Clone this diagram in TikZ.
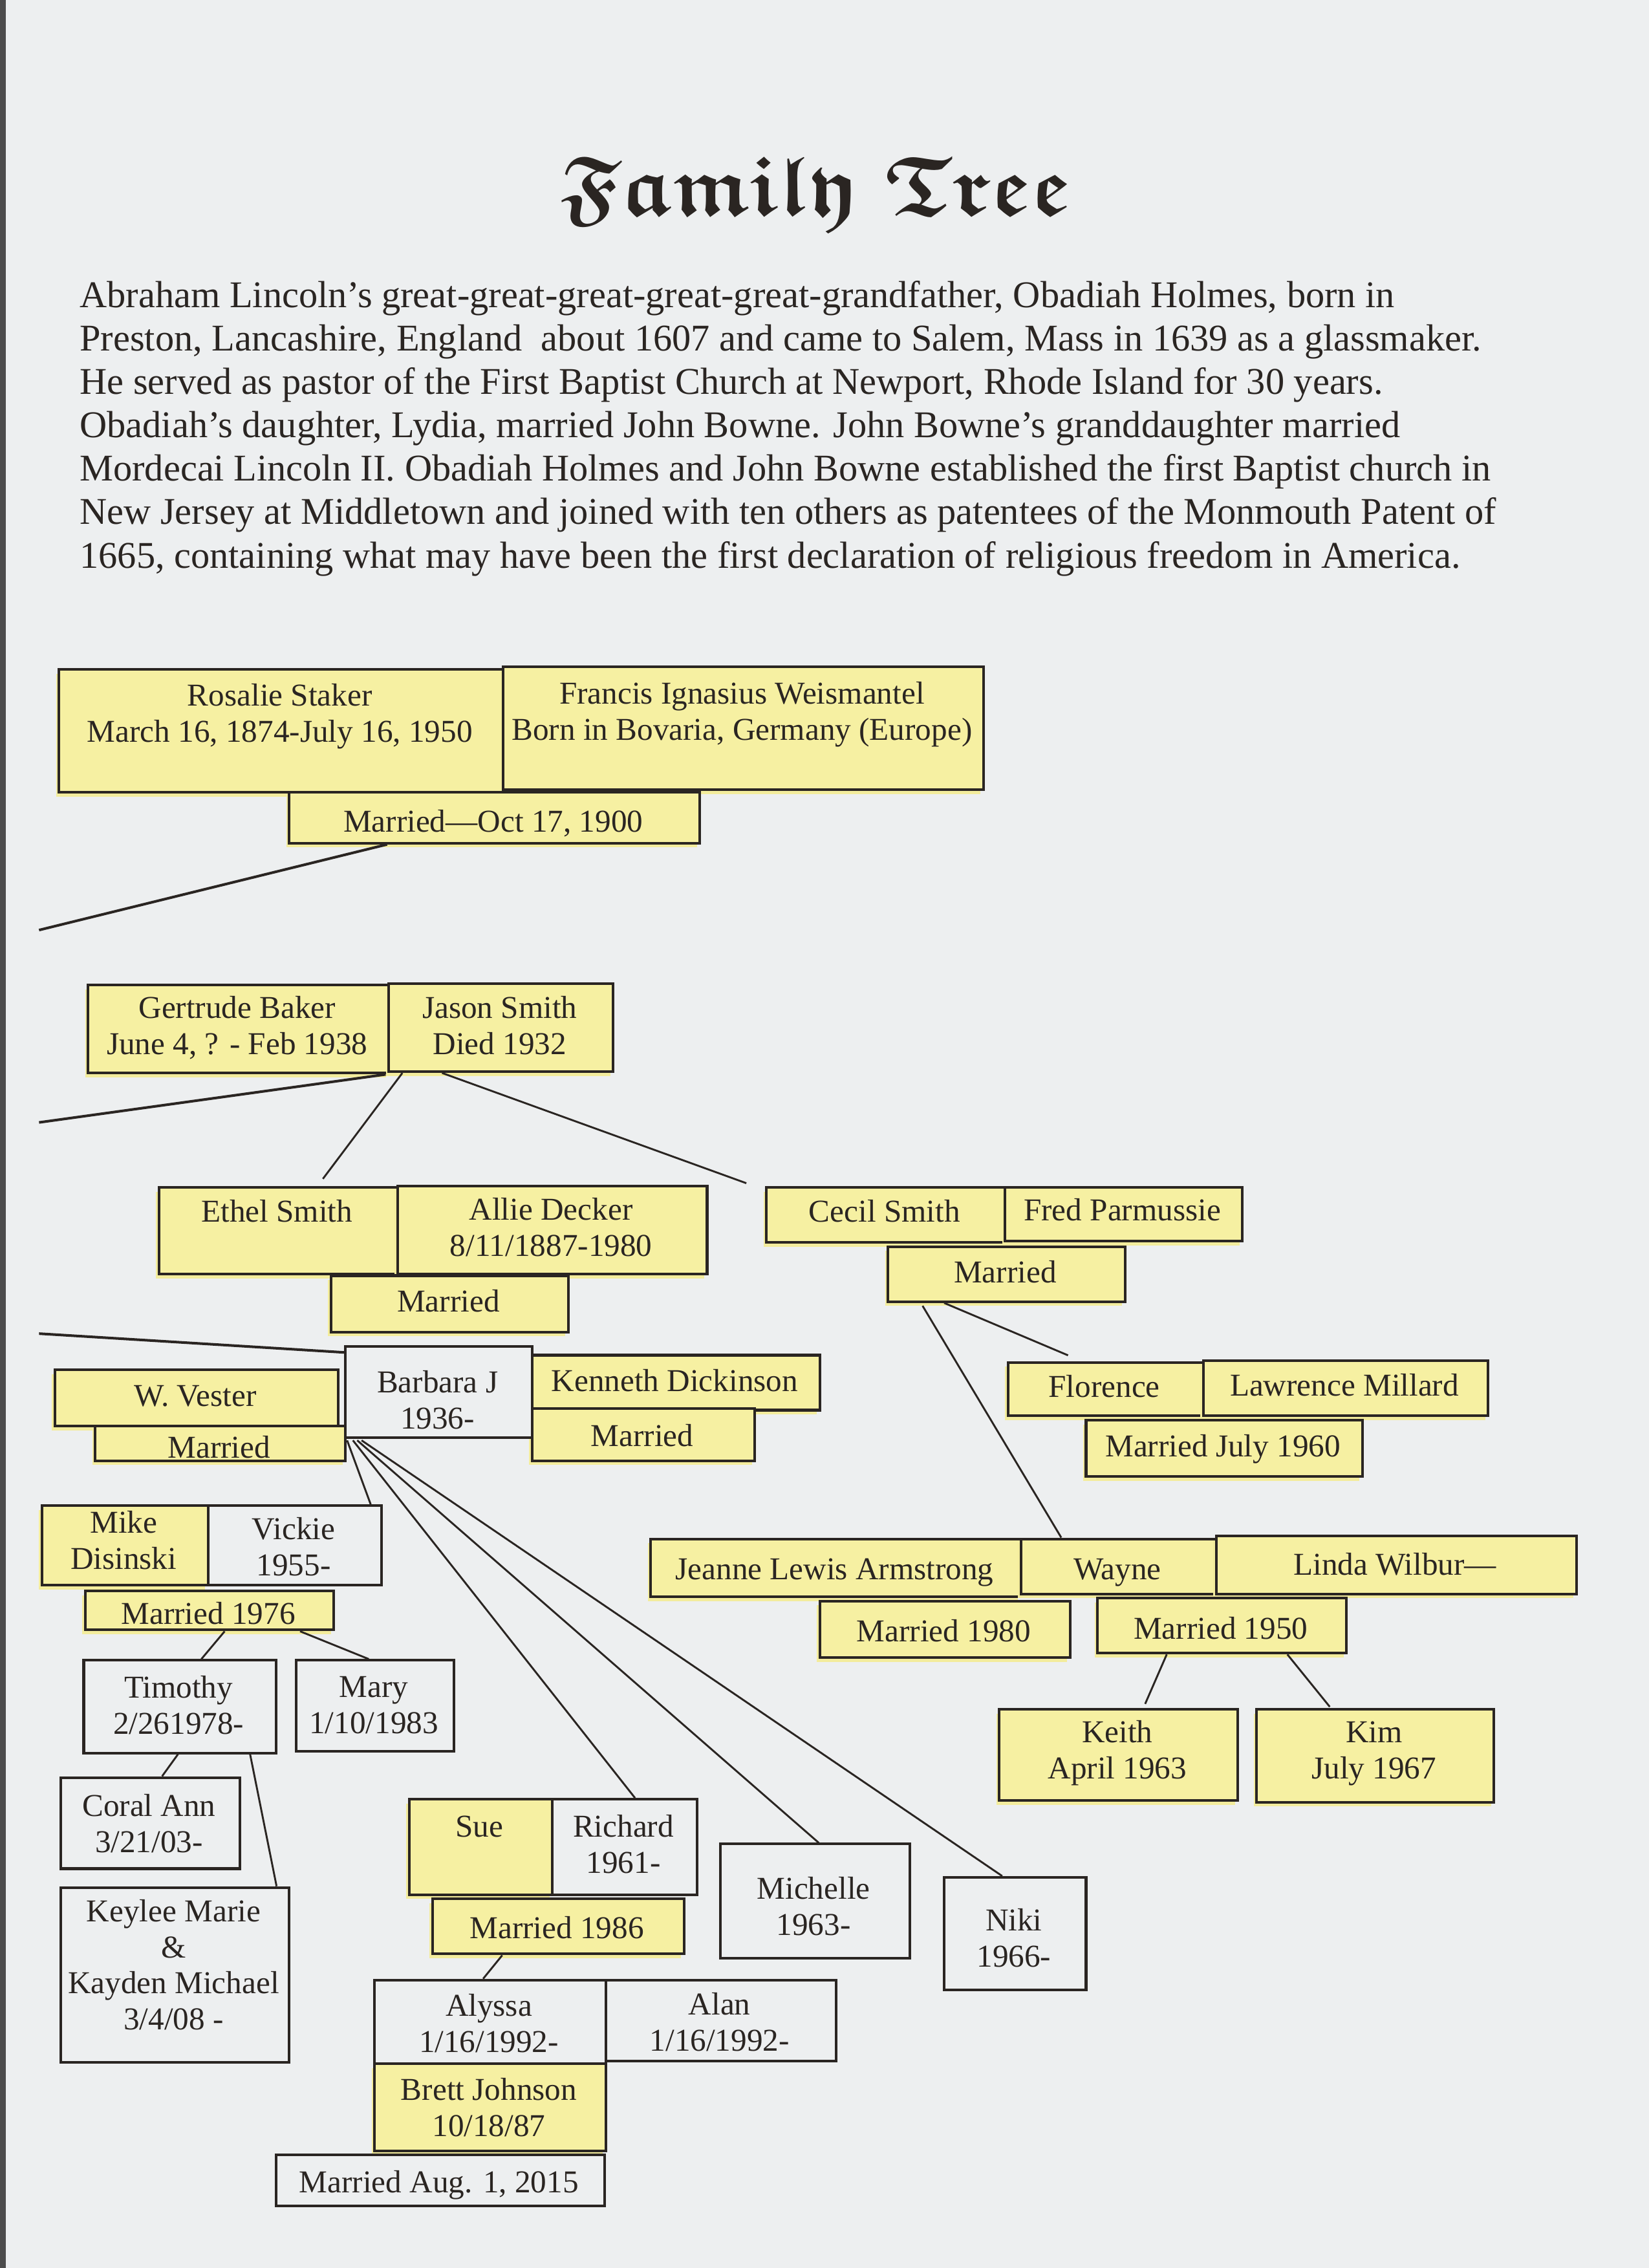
\documentclass[tikz,border=0pt]{standalone}
\usepackage{fontspec}
\setmainfont{Liberation Serif}
\usetikzlibrary{calc}
\definecolor{bg}{HTML}{EDEFF0}
\definecolor{yel}{HTML}{F6F0A2}
\definecolor{glow}{HTML}{F3EC9C}
\definecolor{ink}{HTML}{2A2522}
\tikzset{
  anybox/.style={draw=ink, line width=1.8pt, inner sep=0pt},
  ybox/.style={anybox, fill=yel, preaction={fill=glow, transform canvas={shift={(-2pt,-3pt)}}}},
  wbox/.style={anybox, fill=bg},
  txt/.style={inner sep=0pt, align=center, text=ink, font=\fontsize{22}{25}\selectfont,
    execute at begin node={\strut}, execute at end node={\strut}},
  conn/.style={draw=ink, line width=1.3pt},
  thick conn/.style={draw=ink, line width=1.8pt},
}
\newcommand\bx[8]{%
  \node[#2, anchor=north west, minimum width={#5-#3}, minimum height={#6-#4}] (#1) at (#3,#4) {};
  \node[txt] (#1-t) at ({(#3+#5)/2},{#7+3}) {#8};}
\newcommand\frakfont{\usefont{U}{euf}{b}{n}}
\begin{document}
\begin{tikzpicture}[x=1pt,y=-1pt]
\fill[bg] (0,0) rectangle (1140,1568);
\useasboundingbox (0,0) rectangle (1140,1568);
\fill[gray!60!black] (0,0) rectangle (4,1568);

\node[text=ink, font=\fontsize{58.5}{64}\frakfont] (title) at (564,134) {Family Tree};
\node[anchor=north west, inner sep=0pt, align=left, text=ink, font=\fontsize{26.1}{30}\selectfont,
  execute at begin node={\strut}] (intro) at (55,194) {%
Abraham Lincoln’s great-great-great-great-great-grandfather, Obadiah Holmes, born in\\
Preston, Lancashire, England\ \ about 1607 and came to Salem, Mass in 1639 as a glassmaker.\\
He served as pastor of the First Baptist Church at Newport, Rhode Island for 30 years.\\
Obadiah’s daughter, Lydia, married John Bowne. John Bowne’s granddaughter married\\
Mordecai Lincoln II. Obadiah Holmes and John Bowne established the first Baptist church in\\
New Jersey at Middletown and joined with ten others as patentees of the Monmouth Patent of\\
1665, containing what may have been the first declaration of religious freedom in America.};

% ---- generation 1
\bx{rosalie}{ybox}{40}{462}{347}{547}{493.5}{Rosalie Staker\\March 16, 1874-July 16, 1950}
\bx{francis}{ybox}{347}{460}{679}{545}{492.5}{Francis Ignasius Weismantel\\Born in Bovaria, Germany (Europe)}
\bx{marr1}{ybox}{199}{547}{483}{582}{567}{Married—Oct 17, 1900}
% ---- generation 2
\bx{gertrude}{ybox}{60}{680}{268}{741}{709.5}{Gertrude Baker\\June 4, ? - Feb 1938}
\bx{jason}{ybox}{268}{679}{423}{740}{709.5}{Jason Smith\\Died 1932}
% ---- generation 3 left
\bx{ethel}{ybox}{109}{820}{274}{880}{837}{Ethel Smith}
\bx{allie}{ybox}{274}{819}{488}{880}{849}{Allie Decker\\8/11/1887-1980}
\bx{marr2}{ybox}{228}{881}{392}{920}{899}{Married}
% ---- Barbara
\bx{vester}{ybox}{37}{946}{233}{985}{964}{W. Vester}
\bx{marrV}{ybox}{65}{985}{238}{1009}{1000}{Married}
\bx{kenneth}{ybox}{367}{936}{566}{974}{954}{Kenneth Dickinson}
\bx{marrK}{ybox}{367}{973}{521}{1009}{992}{Married}
\bx{barbara}{wbox}{238}{930}{367}{993}{968.5}{Barbara J\\1936-}
% ---- Vickie branch
\bx{mike}{ybox}{28}{1040}{143}{1095}{1065.5}{Mike\\Disinski}
\bx{vickie}{wbox}{143}{1040}{263}{1095}{1070}{Vickie\\1955-}
\bx{marr76}{ybox}{58}{1099}{230}{1126}{1115}{Married 1976}
\bx{timothy}{wbox}{57}{1147}{190}{1211}{1179.5}{Timothy\\2/261978-}
\bx{mary}{wbox}{204}{1147}{313}{1210}{1179.5}{Mary\\1/10/1983}
\bx{coral}{wbox}{41}{1228}{165}{1291}{1261.5}{Coral Ann\\3/21/03-}
\bx{keylee}{wbox}{41}{1304}{199}{1425}{1359}{Keylee Marie\\\&\\Kayden Michael\\3/4/08 -}
% ---- Richard branch
\bx{sue}{ybox}{282}{1243}{381}{1309}{1262}{Sue}
\bx{richard}{wbox}{381}{1243}{481}{1309}{1275.5}{Richard\\1961-}
\bx{marr86}{ybox}{298}{1312}{472}{1350}{1332}{Married 1986}
\bx{alyssa}{wbox}{258}{1368}{418}{1426}{1399.5}{Alyssa\\1/16/1992-}
\bx{alan}{wbox}{418}{1368}{577}{1424}{1398.5}{Alan\\1/16/1992-}
\bx{brett}{ybox}{258}{1426}{418}{1486}{1457.5}{Brett Johnson\\10/18/87}
\bx{marr15}{wbox}{190}{1489}{417}{1524}{1508}{Married Aug. 1, 2015}
\bx{michelle}{wbox}{497}{1274}{628}{1353}{1318.5}{Michelle\\1963-}
\bx{niki}{wbox}{652}{1297}{750}{1375}{1340.5}{Niki\\1966-}
% ---- Cecil branch
\bx{cecil}{ybox}{529}{820}{694}{858}{837}{Cecil Smith}
\bx{fred}{ybox}{694}{820}{858}{857}{836}{Fred Parmussie}
\bx{marrC}{ybox}{613}{861}{777}{899}{879}{Married}
\bx{florence}{ybox}{696}{941}{831}{978}{958}{Florence}
\bx{lawrence}{ybox}{831}{940}{1028}{978}{957}{Lawrence Millard}
\bx{marr60}{ybox}{750}{981}{941}{1020}{999}{Married July 1960}
\bx{jeanne}{ybox}{449}{1063}{705}{1103}{1084}{Jeanne Lewis Armstrong}
\bx{wayne}{ybox}{705}{1063}{840}{1101}{1084}{Wayne}
\bx{linda}{ybox}{840}{1061}{1089}{1101}{1081}{Linda Wilbur—}
\bx{marr80}{ybox}{566}{1106}{739}{1145}{1127}{Married 1980}
\bx{marr50}{ybox}{758}{1104}{930}{1142}{1125}{Married 1950}
\bx{keith}{ybox}{690}{1181}{855}{1244}{1210.5}{Keith\\April 1963}
\bx{kim}{ybox}{868}{1181}{1032}{1245}{1210.5}{Kim\\July 1967}

% ---- free ends at the left margin
\coordinate (freeA) at (27,643);
\coordinate (freeB) at (27,776);
\coordinate (freeC) at (27,922);

% ---- connectors
\draw[thick conn] ($(marr1.south west)!0.24!(marr1.south east)$) -- (freeA);
\draw[thick conn] ($(gertrude.south west)!0.985!(gertrude.south east)$) -- (freeB);
\draw[conn] ($(jason.south west)!0.065!(jason.south east)$) -- ($(ethel.north west)!0.685!(ethel.north east)+(0,-5)$);
\draw[conn] ($(jason.south west)!0.24!(jason.south east)$) -- ($(cecil.north west)+(-13,-2)$);
\draw[thick conn] (freeC) -- ($(barbara.north west)+(0,5)$);
\draw[conn] ($(barbara.south west)+(2,1)$) -- ($(vickie.north west)!0.93!(vickie.north east)$);
\draw[conn] ($(barbara.south west)+(6,1)$) -- ($(richard.north west)!0.57!(richard.north east)$);
\draw[conn] ($(barbara.south west)+(9,1)$) -- ($(michelle.north west)!0.52!(michelle.north east)$);
\draw[conn] ($(barbara.south west)+(12,1)$) -- ($(niki.north west)!0.41!(niki.north east)$);
\draw[conn] ($(marr76.south west)!0.56!(marr76.south east)$) -- ($(timothy.north west)!0.61!(timothy.north east)$);
\draw[conn] ($(marr76.south west)!0.86!(marr76.south east)$) -- ($(mary.north west)!0.46!(mary.north east)$);
\draw[conn] ($(timothy.south west)!0.49!(timothy.south east)$) -- ($(coral.north west)!0.565!(coral.north east)$);
\draw[conn] ($(timothy.south west)!0.86!(timothy.south east)$) -- ($(keylee.north west)!0.94!(keylee.north east)$);
\draw[conn] ($(marr86.south west)!0.28!(marr86.south east)$) -- ($(alyssa.north west)!0.47!(alyssa.north east)$);
\draw[conn] ($(marrC.south west)!0.24!(marrC.south east)$) -- ($(florence.north west)!0.31!(florence.north east)+(0,-4)$);
\draw[conn] ($(marrC.south west)!0.15!(marrC.south east)+(0,2)$) -- ($(wayne.north west)!0.21!(wayne.north east)$);
\draw[conn] ($(marr50.south west)!0.28!(marr50.south east)$) -- ($(keith.north west)!0.61!(keith.north east)+(0,-3)$);
\draw[conn] ($(marr50.south west)!0.76!(marr50.south east)$) -- ($(kim.north west)!0.31!(kim.north east)+(0,-1)$);
\end{tikzpicture}
\end{document}
